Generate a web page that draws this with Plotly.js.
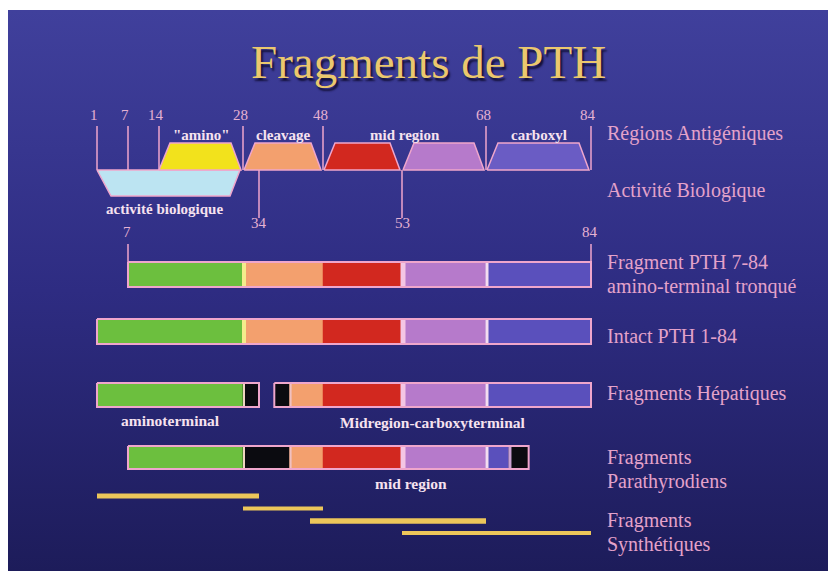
<!DOCTYPE html>
<html><head><meta charset="utf-8">
<script src="https://cdn.plot.ly/plotly-3.0.1.min.js"></script>
<style>html,body{margin:0;padding:0;background:#fff;overflow:hidden}</style>
</head><body><div id="chart" style="width:828px;height:571px"></div>
<script>
// ---------- DATA (residue numbers of PTH 1-84) ----------
const topTickResidues = [1, 7, 14, 28, 48, 68, 84];
const lowTickResidues = [34, 53];
const antigenStart = [14, 28, 48, 53, 68];
const antigenEnd   = [28, 48, 53, 68, 84];
const antigenKind  = ['yellow', 'orange', 'red', 'lilac', 'violet'];
const regionLabels = ['"amino"', 'cleavage', 'mid region', 'carboxyl'];
const regionStart  = [14, 28, 48, 68];
const regionEnd    = [28, 48, 68, 84];
const bioRange     = [1, 28];
const bioLabel     = 'activité biologique';

const f784Start = [7, 28, 48, 53, 68];
const f784End   = [28, 48, 53, 68, 84];
const f784Kind  = ['green', 'orange', 'red', 'lilac', 'blue'];
const f784Pieces = [[7, 84]];

const intactStart = [1, 28, 48, 53, 68];
const intactEnd   = [28, 48, 53, 68, 84];
const intactKind  = ['green', 'orange', 'red', 'lilac', 'blue'];
const intactPieces = [[1, 84]];

const hepStart = [1, 28, 37, 40, 48, 53, 68];
const hepEnd   = [28, 34, 40, 48, 53, 68, 84];
const hepKind  = ['green', 'black', 'black', 'orange', 'red', 'lilac', 'blue'];
const hepPieces = [[1, 34], [37, 84]];
const hepLabels = ['aminoterminal', 'Midregion-carboxyterminal'];

const paraStart = [7, 28, 40, 48, 53, 68, 71.5];
const paraEnd   = [28, 40, 48, 53, 68, 71.5, 74.5];
const paraKind  = ['green', 'black', 'orange', 'red', 'lilac', 'blue', 'black'];
const paraPieces = [[7, 74.5]];
const paraLabel = 'mid region';

const synthStart = [1, 28, 44, 53];
const synthEnd   = [34, 48, 68, 84];

const sideLabels = ['Régions Antigéniques', 'Activité Biologique', 'Fragment PTH 7-84',
  'amino-terminal tronqué', 'Intact PTH 1-84', 'Fragments Hépatiques', 'Fragments',
  'Parathyrodiens', 'Fragments', 'Synthétiques'];
const titleText = 'Fragments de PTH';

// ---------- SCHEMATIC SCALE (diagram is not drawn to scale) ----------
const scaleResidues = [1, 7, 14, 28, 34, 44, 48, 53, 68, 84];
const scaleUnits    = [97, 128, 159, 243, 259, 310, 323, 402, 486, 591];
function X(r) {
  for (let i = 0; i < scaleResidues.length - 1; i++) {
    const a = scaleResidues[i], b = scaleResidues[i + 1];
    if (r <= b) return scaleUnits[i] + (r - a) / (b - a) * (scaleUnits[i + 1] - scaleUnits[i]);
  }
  return scaleUnits[scaleUnits.length - 1];
}

// ---------- STYLES ----------
const FONT = 'Liberation Serif, Times New Roman, serif';
const fillColor = {green:'#6cbf3e', orange:'#f3a06e', red:'#d2281f', lilac:'#b67acb', blue:'#5a50bc',
  black:'#0b0b10', yellow:'#f2e21c', violet:'#6a5cc4', lightblue:'#bce4f2'};
const sepStyle = {
  'green|orange':['#f4ec8c',4], 'green|black':['#efd6c0',2], 'black|orange':['#f0c0c0',2],
  'red|lilac':['#f4c6e4',5], 'lilac|blue':['#f4dcf0',3], 'blue|black':['#c8a0d0',3]
};
const PINK = '#efa6cc';
const numColor = '#e6b2d2', sideColor = '#e4a2ca', subColor = '#f6e2ef';
const rowY = {f784:[262, 287], intact:[319, 344], hep:[383, 407], para:[446, 469]};
const synthY = [496, 508.5, 521, 533], synthW = [5, 4, 5.5, 4];
const sideY = [133, 190, 262, 286, 336, 393, 457, 481, 520, 544];

const traces = [];
function poly(xs, ys, fill, line, lw) {
  traces.push({type:'scatter', mode:'lines', x:xs, y:ys, fill: fill ? 'toself' : 'none',
    fillcolor: fill || 'rgba(0,0,0,0)', line:{color: line || 'rgba(0,0,0,0)', width: lw || 0},
    hoverinfo:'skip', showlegend:false});
}
function rect(x0, x1, y0, y1, fill, line, lw) { poly([x0, x1, x1, x0, x0], [y0, y0, y1, y1, y0], fill, line, lw); }
function seg(x0, y0, x1, y1, color, w) {
  traces.push({type:'scatter', mode:'lines', x:[x0, x1], y:[y0, y1], line:{color:color, width:w},
    hoverinfo:'skip', showlegend:false});
}

// background with vertical gradient
traces.push({type:'scatter', mode:'lines', x:[8, 828, 828, 8, 8], y:[10, 10, 571, 571, 10], fill:'toself',
  line:{width:0, color:'rgba(0,0,0,0)'}, hoverinfo:'skip', showlegend:false,
  fillgradient:{type:'vertical', colorscale:[[0, '#1d1c5a'], [0.5, '#2e2c82'], [1, '#40409c']]}});

// top tick lines
topTickResidues.forEach(r => seg(X(r), 126, X(r), 170, PINK, 1.5));
lowTickResidues.forEach(r => seg(X(r), 170, X(r), 218, PINK, 1.5));

// biological activity shape
poly([X(bioRange[0]), X(bioRange[1]) - 3, X(bioRange[1]) - 13, X(bioRange[0]) + 14, X(bioRange[0])],
     [170, 170, 196, 196, 170], fillColor.lightblue, PINK, 1.5);

// antigenic trapezoids
antigenStart.forEach((s, i) => {
  const x0 = X(s) + (i ? 1 : 0), x1 = X(antigenEnd[i]) - 2;
  poly([x0, x1, x1 - 10, x0 + 11, x0], [170, 170, 143, 143, 170], fillColor[antigenKind[i]], PINK, 1.5);
});

// fragment bars
function drawRow(starts, ends, kinds, pieces, yy) {
  starts.forEach((s, i) => rect(X(s), X(ends[i]), yy[0], yy[1], fillColor[kinds[i]], fillColor[kinds[i]], 0.5));
  for (let i = 0; i < starts.length - 1; i++) {
    if (ends[i] !== starts[i + 1]) continue;
    const st = sepStyle[kinds[i] + '|' + kinds[i + 1]];
    if (st) seg(X(ends[i]) + 1, yy[0], X(ends[i]) + 1, yy[1], st[0], st[1]);
  }
  pieces.forEach(p => rect(X(p[0]), X(p[1]), yy[0], yy[1], null, PINK, 2));
}
drawRow(f784Start, f784End, f784Kind, f784Pieces, rowY.f784);
drawRow(intactStart, intactEnd, intactKind, intactPieces, rowY.intact);
drawRow(hepStart, hepEnd, hepKind, hepPieces, rowY.hep);
drawRow(paraStart, paraEnd, paraKind, paraPieces, rowY.para);
// end ticks of fragment 7-84
f784Pieces[0].forEach(r => seg(X(r), 244, X(r), 262, PINK, 1.5));

// synthetic fragments
synthStart.forEach((s, i) => seg(X(s), synthY[i], X(synthEnd[i]), synthY[i], '#ecc65a', synthW[i]));

// ---------- TEXT ----------
const ann = [];
function txt(x, y, t, size, color, anchor, extra) {
  ann.push(Object.assign({x:x, y:y, xref:'x', yref:'y', text:t, showarrow:false, xanchor:anchor || 'center',
    yanchor:'middle', font:Object.assign({family:FONT, size:size, color:color}, (extra && extra.font) || {})},
    extra && extra.ann || {}));
}
txt(428, 62, titleText, 47, '#ebc86e', 'center', {font:{shadow:'2px 3px 2px #14113a'}});
topTickResidues.forEach(r => txt(X(r) - 3, 115, String(r), 15, numColor));
lowTickResidues.forEach(r => txt(X(r), 223, String(r), 15, numColor));
f784Pieces[0].forEach(r => txt(X(r) - 1, 232, String(r), 15, numColor));
const bold = {font:{weight:'bold'}};
regionLabels.forEach((t, i) => txt((X(regionStart[i]) + X(regionEnd[i])) / 2, 135, t, 15, subColor, 'center', bold));
txt((X(bioRange[0]) + X(bioRange[1])) / 2 - 6, 209, bioLabel, 15, subColor, 'center', bold);
txt((X(hepPieces[0][0]) + X(hepPieces[0][1])) / 2 - 8, 420, hepLabels[0], 15.5, subColor, 'center', bold);
txt((X(hepPieces[1][0]) + X(hepPieces[1][1])) / 2, 422, hepLabels[1], 15.5, subColor, 'center', bold);
txt((X(48) + X(68)) / 2 + 6, 483, paraLabel, 15.5, subColor, 'center', bold);
sideLabels.forEach((t, i) => txt(605, sideY[i], t, 20, sideColor, 'left'));

const layout = {
  width:828, height:571, margin:{l:0, r:0, t:0, b:0}, paper_bgcolor:'#ffffff', plot_bgcolor:'#ffffff',
  xaxis:{range:[0, 828], visible:false, fixedrange:true},
  yaxis:{range:[571, 0], visible:false, fixedrange:true},
  annotations: ann, showlegend:false
};
Plotly.newPlot('chart', traces, layout, {staticPlot:true, displayModeBar:false});
</script></body></html>
